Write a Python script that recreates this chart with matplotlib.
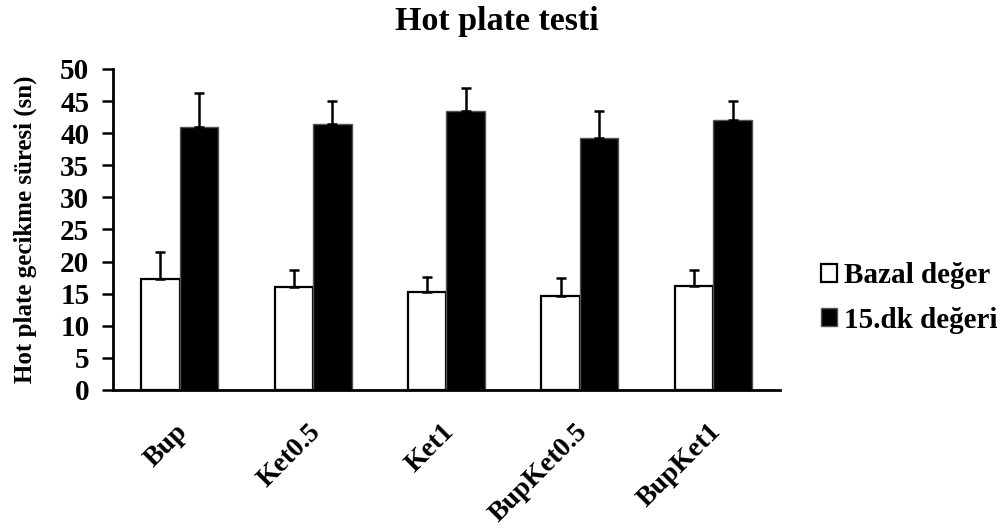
import numpy as np
import matplotlib.pyplot as plt
from matplotlib.transforms import ScaledTranslation

plt.rcParams['font.family'] = ['Liberation Serif', 'DejaVu Serif']
plt.rcParams['font.weight'] = 'bold'

groups = ["Bup", "Ket0.5", "Ket1", "BupKet0.5", "BupKet1"]
bazal = [17.3, 16.0, 15.2, 14.6, 16.2]
bazal_err = [4.2, 2.7, 2.4, 2.8, 2.5]
dk15 = [40.9, 41.4, 43.4, 39.3, 42.1]
dk15_err = [5.4, 3.6, 3.6, 4.2, 2.9]

fig = plt.figure(figsize=(10.08, 5.29), dpi=100)
ax = fig.add_axes([0.1121, 0.2628, 0.6617, 0.6068])

x = np.arange(len(groups))
w = 0.289
zeros = np.zeros(len(groups))
ax.bar(x - w / 2, bazal, w, color='white', edgecolor='black', linewidth=1.6,
       yerr=[zeros, bazal_err], capsize=3.5,
       error_kw=dict(elinewidth=1.8, capthick=1.8, ecolor='black'),
       label='Bazal değer')
ax.bar(x + w / 2, dk15, w, color='black', edgecolor='#555555', linewidth=1,
       yerr=[zeros, dk15_err], capsize=3.5,
       error_kw=dict(elinewidth=1.8, capthick=1.8, ecolor='black'),
       label='15.dk değeri')

ax.set_xlim(-0.5, len(groups) - 0.5)
ax.set_ylim(0, 50)
ax.set_yticks(np.arange(0, 51, 5))
ax.tick_params(axis='y', direction='out', length=8, width=1.8, labelsize=21, pad=9)
ax.tick_params(axis='x', length=0, labelsize=20, pad=21)
ax.set_xticks(x)
ax.set_xticklabels(groups, rotation=45, ha='right', rotation_mode='anchor')
shift = ScaledTranslation(-5 / 100, 0, fig.dpi_scale_trans)
for lab in ax.get_xticklabels():
    lab.set_fontweight('bold')
    lab.set_transform(lab.get_transform() + shift)
for lab in ax.get_yticklabels():
    lab.set_fontweight('bold')

for s in ['top', 'right']:
    ax.spines[s].set_visible(False)
for s in ['left', 'bottom']:
    ax.spines[s].set_linewidth(2)

ax.set_ylabel('Hot plate gecikme süresi (sn)', fontsize=18, fontweight='bold')
ax.yaxis.set_label_coords(-0.114, 0.5)
fig.text(0.493, 0.943, 'Hot plate testi', fontsize=24.5, fontweight='bold',
         ha='center', va='baseline')

fig.legend(loc='center left', bbox_to_anchor=(0.80, 0.437), frameon=False,
           borderpad=0, prop={'size': 21, 'weight': 'bold'},
           handlelength=0.55, handleheight=0.55,
           handletextpad=0.25, labelspacing=0.6)

fig.savefig('out.png', dpi=100)
